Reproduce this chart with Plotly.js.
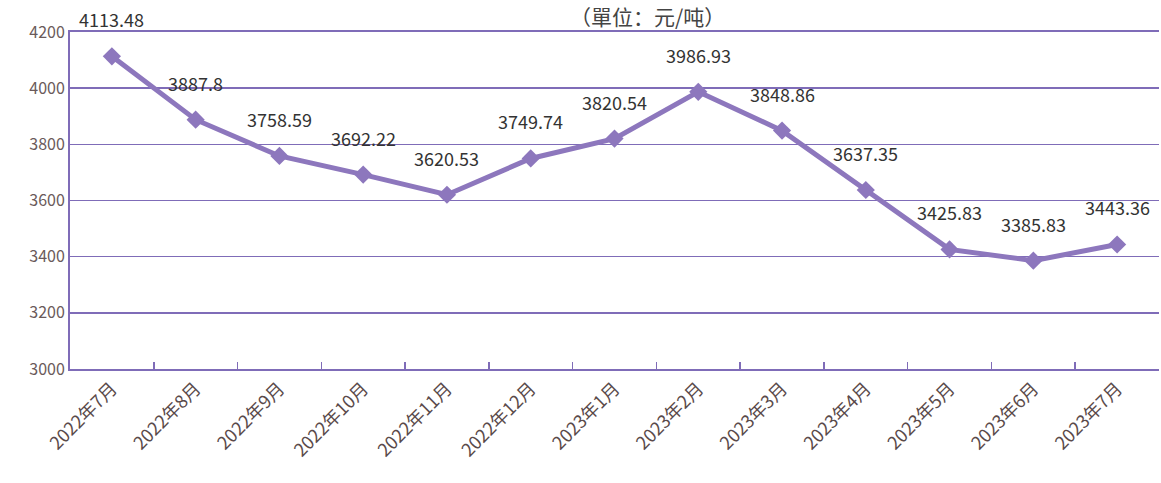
<!DOCTYPE html>
<html>
<head>
<meta charset="utf-8">
<script src="https://cdn.plot.ly/plotly-3.0.1.min.js"></script>
<style>
  html, body { margin: 0; padding: 0; background: #fff; }
  #chart { width: 1161px; height: 483px; }
</style>
</head>
<body>
<div id="chart"></div>
<script>
// monthly price, yuan per ton
const months = [
  "2022年7月", "2022年8月", "2022年9月", "2022年10月", "2022年11月", "2022年12月",
  "2023年1月", "2023年2月", "2023年3月", "2023年4月", "2023年5月", "2023年6月", "2023年7月"
];
const prices = [
  4113.48, 3887.8, 3758.59, 3692.22, 3620.53, 3749.74,
  3820.54, 3986.93, 3848.86, 3637.35, 3425.83, 3385.83, 3443.36
];
const labelTexts = [
  "4113.48", "3887.8", "3758.59", "3692.22", "3620.53", "3749.74",
  "3820.54", "3986.93", "3848.86", "3637.35", "3425.83", "3385.83", "3443.36"
];
const yTicks = [3000, 3200, 3400, 3600, 3800, 4000, 4200];

const LINE_COLOR = "#8d77bd";
const AXIS_COLOR = "#7f6cb8";
const FONT = "Noto Sans CJK SC, Noto Sans, sans-serif";

const trace = {
  x: months,
  y: prices,
  type: "scatter",
  mode: "lines+markers",
  line: { color: LINE_COLOR, width: 5 },
  marker: { symbol: "diamond", size: 14, color: LINE_COLOR },
  hoverinfo: "x+y"
};

// value labels sit above each point
const annotations = months.map((m, i) => ({
  x: m,
  y: prices[i],
  xref: "x",
  yref: "y",
  text: labelTexts[i],
  showarrow: false,
  yshift: 37,
  font: { family: FONT, size: 18, color: "#333" }
}));

annotations.push({
  xref: "paper",
  yref: "paper",
  x: 0.53,
  y: 1.047,
  yanchor: "middle",
  text: "（單位：元/吨）",
  showarrow: false,
  font: { family: FONT, size: 21, color: "#444" }
});

const layout = {
  width: 1161,
  height: 483,
  showlegend: false,
  margin: { l: 70, r: 2, t: 32, b: 114 },
  paper_bgcolor: "#fff",
  plot_bgcolor: "#fff",
  xaxis: {
    type: "category",
    range: [-0.5, 12.5],
    showgrid: false,
    zeroline: false,
    showline: true,
    mirror: true,
    linecolor: AXIS_COLOR,
    linewidth: 2,
    ticks: "inside",
    tickson: "boundaries",
    ticklen: 7,
    tickwidth: 1.5,
    tickcolor: AXIS_COLOR,
    tickangle: -45,
    tickfont: { family: FONT, size: 18, color: "#5a4a4a" }
  },
  yaxis: {
    range: [3000, 4200],
    tickvals: yTicks,
    showgrid: true,
    gridcolor: AXIS_COLOR,
    gridwidth: 1.5,
    zeroline: false,
    showline: true,
    linecolor: AXIS_COLOR,
    linewidth: 2,
    ticks: "",
    tickfont: { family: FONT, size: 16, color: "#6a5a5a" }
  },
  annotations: annotations
};

Plotly.newPlot("chart", [trace], layout, { displayModeBar: false, staticPlot: true });
</script>
</body>
</html>
